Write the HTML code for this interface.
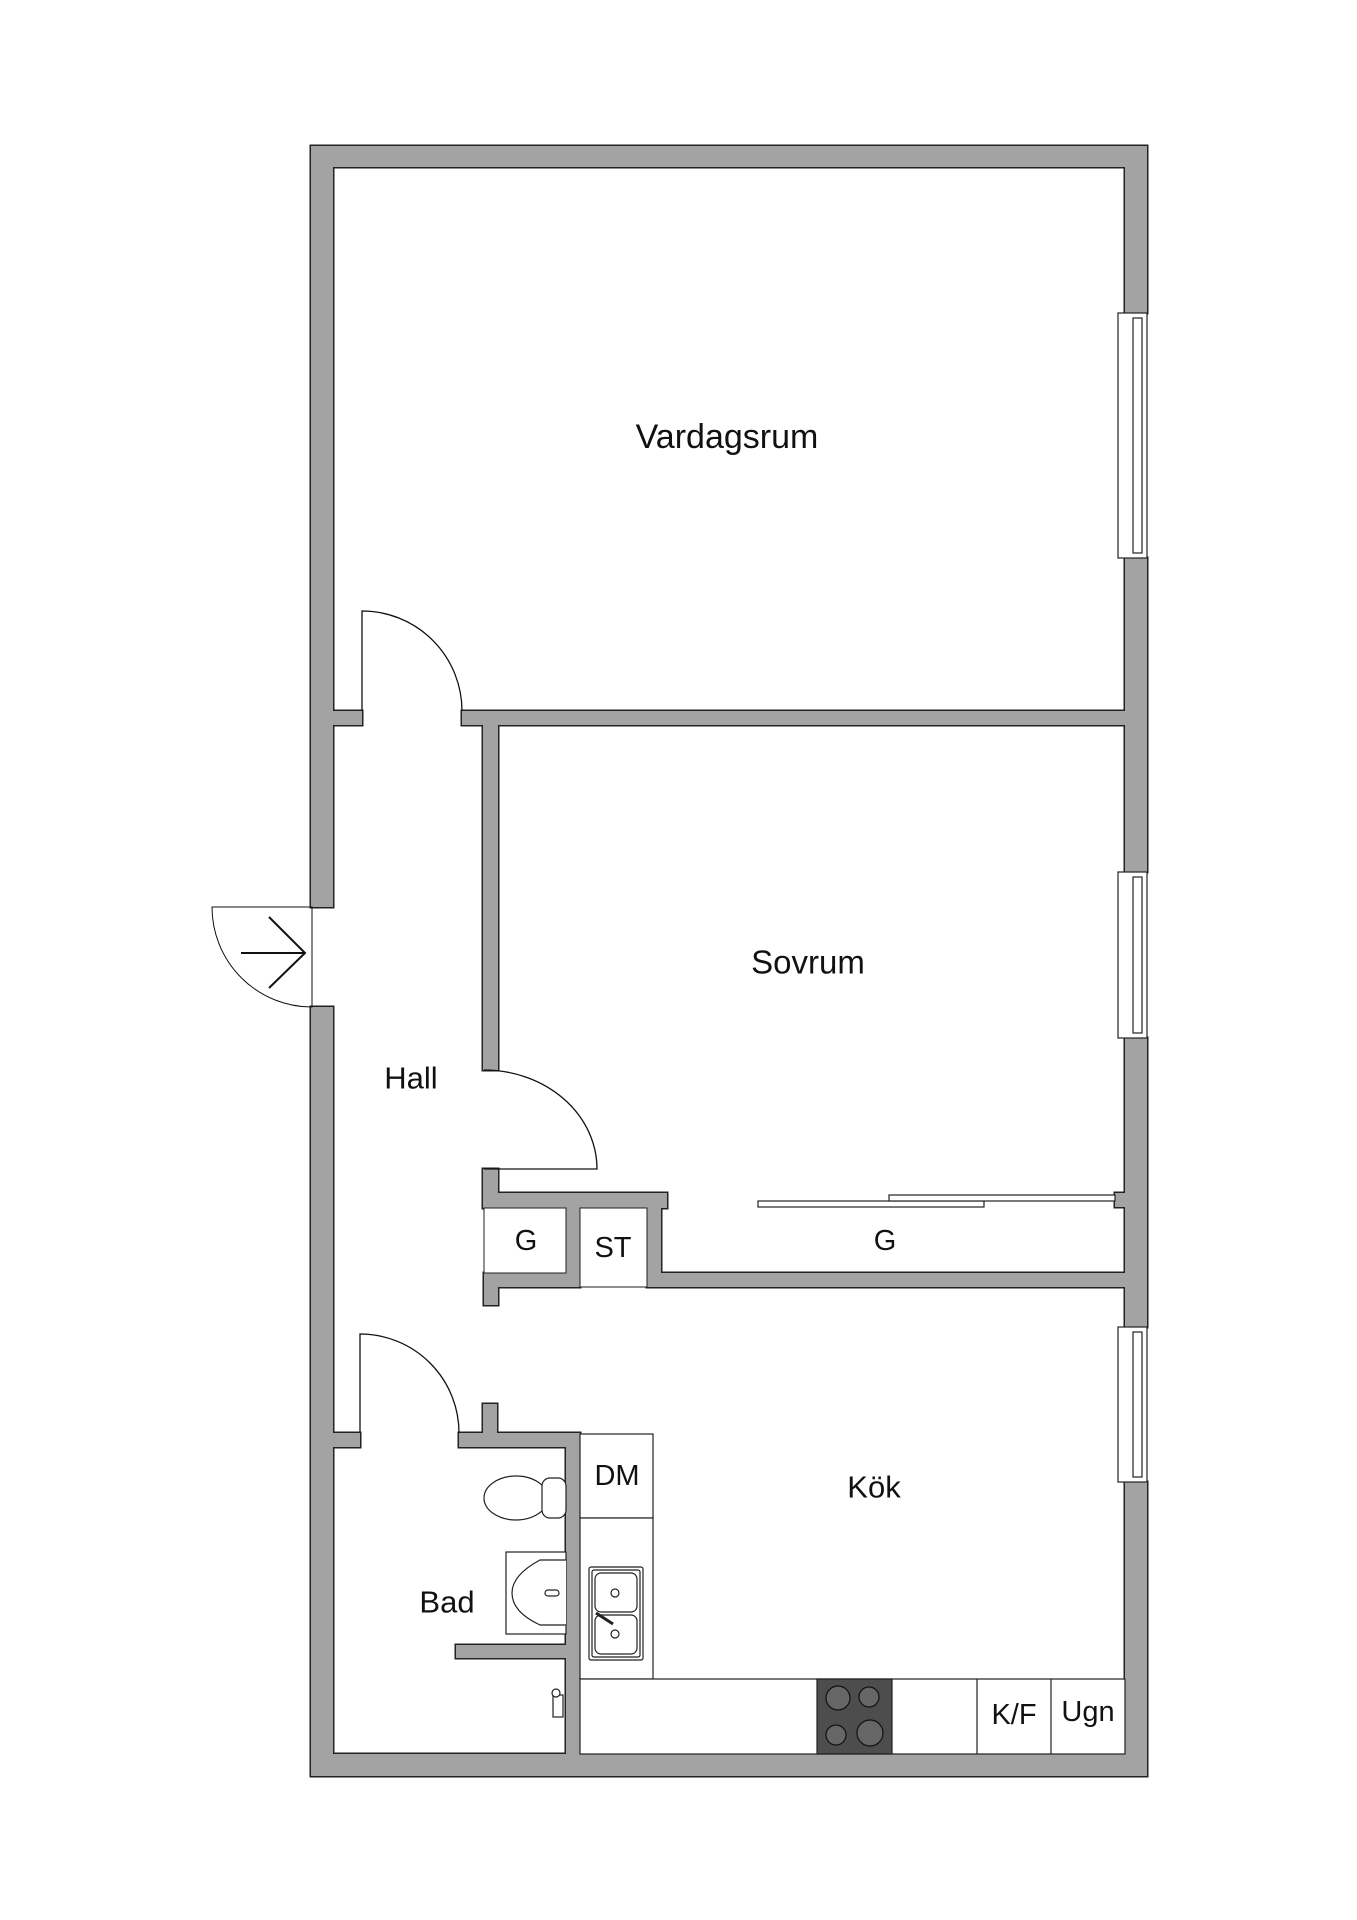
<!DOCTYPE html>
<html><head><meta charset="utf-8"><style>html,body{margin:0;padding:0;background:#fff}svg{display:block}</style></head>
<body>
<svg width="1357" height="1920" viewBox="0 0 1357 1920" xmlns="http://www.w3.org/2000/svg">
<defs>
<g id="walls">
<rect x="311" y="146" width="836" height="21"/>
<rect x="311" y="146" width="22" height="761"/>
<rect x="311" y="1007" width="22" height="769"/>
<rect x="1125" y="146" width="22" height="167"/>
<rect x="1125" y="558" width="22" height="314"/>
<rect x="1125" y="1038" width="22" height="289"/>
<rect x="1125" y="1482" width="22" height="294"/>
<rect x="311" y="1754" width="836" height="22"/>
<rect x="333" y="711" width="29" height="14"/>
<rect x="462" y="711" width="663" height="14"/>
<rect x="483" y="711" width="15" height="359"/>
<rect x="483" y="1169" width="15" height="39"/>
<rect x="483" y="1193" width="184" height="15"/>
<rect x="566" y="1208" width="14" height="79"/>
<rect x="647" y="1193" width="14" height="94"/>
<rect x="484" y="1273" width="96" height="14"/>
<rect x="484" y="1287" width="14" height="18"/>
<rect x="647" y="1273" width="500" height="14"/>
<rect x="1115" y="1193" width="10" height="14"/>
<rect x="333" y="1433" width="27" height="14"/>
<rect x="459" y="1433" width="121" height="14"/>
<rect x="483" y="1404" width="14" height="30"/>
<rect x="566" y="1433" width="14" height="321"/>
<rect x="456" y="1645" width="110" height="13"/>
</g>
</defs>
<use href="#walls" fill="#222" stroke="#222" stroke-width="3"/>
<use href="#walls" fill="#a3a3a3"/>
<rect x="580" y="1208" width="67" height="79" fill="#fff" stroke="#222" stroke-width="1"/>
<rect x="484" y="1208" width="82" height="65" fill="#fff" stroke="#222" stroke-width="1"/>
<g fill="#fff" stroke="#222" stroke-width="1.2">
<rect x="1118" y="313" width="29" height="245"/>
<rect x="1133" y="318" width="9" height="235"/>
<rect x="1118" y="872" width="29" height="166"/>
<rect x="1133" y="877" width="9" height="156"/>
<rect x="1118" y="1327" width="29" height="155"/>
<rect x="1133" y="1332" width="9" height="145"/>
<rect x="758" y="1201" width="226" height="6"/>
<rect x="889" y="1195" width="226" height="6"/>
<rect x="580" y="1434" width="73" height="84"/>
<rect x="580" y="1518" width="73" height="161"/>
<rect x="580" y="1679" width="545" height="75"/>
<line x1="977" y1="1679" x2="977" y2="1754"/>
<line x1="1051" y1="1679" x2="1051" y2="1754"/>
<rect x="817" y="1679" width="75" height="75" fill="#4d4d4d"/>
<rect x="589" y="1567" width="54" height="93" rx="2"/>
<rect x="592" y="1570" width="48" height="87" rx="2"/>
<rect x="595" y="1573" width="42" height="39" rx="6"/>
<rect x="595" y="1615" width="42" height="39" rx="6"/>
<circle cx="615" cy="1593" r="4"/><circle cx="615" cy="1634" r="4"/>
<line x1="596" y1="1613" x2="613" y2="1624" stroke-width="3"/>
<ellipse cx="516" cy="1498" rx="32" ry="22"/>
<rect x="542" y="1478" width="24" height="40" rx="8"/>
<rect x="506" y="1552" width="60" height="82"/>
<path d="M566 1560 L540 1560 Q512 1575 512 1593 Q512 1612 540 1625 L566 1625"/>
<rect x="545" y="1590" width="14" height="6" rx="3"/>
<rect x="553" y="1695" width="10" height="22"/>
<circle cx="556" cy="1693" r="4"/>
</g>
<g fill="#666" stroke="#111" stroke-width="1.2">
<circle cx="838" cy="1698" r="12"/><circle cx="869" cy="1697" r="10"/>
<circle cx="836" cy="1735" r="10"/><circle cx="870" cy="1733" r="13"/>
</g>
<g fill="none" stroke="#111" stroke-width="1.3">
<path d="M362 711 L362 611 A100 100 0 0 1 462 711"/>
<path d="M484 1070 A113 99 0 0 1 597 1169 L484 1169"/>
<path d="M360 1433 L360 1334 A99 99 0 0 1 459 1433"/>
<path d="M312 907 L212 907 A100 100 0 0 0 312 1007 Z" stroke-width="1"/>
<path d="M241 953 L305 953 M269 917 L305 953 L269 988" stroke-width="2"/>
</g>
<g font-family="Liberation Sans, sans-serif" fill="#111" text-anchor="middle" dominant-baseline="central">
<text x="727" y="437" font-size="34">Vardagsrum</text>
<text x="808" y="962" font-size="33">Sovrum</text>
<text x="411" y="1078" font-size="31">Hall</text>
<text x="874" y="1487" font-size="31">Kök</text>
<text x="447" y="1602" font-size="31">Bad</text>
<text x="526" y="1241" font-size="29">G</text>
<text x="613" y="1248" font-size="29">ST</text>
<text x="885" y="1241" font-size="29">G</text>
<text x="617" y="1476" font-size="29">DM</text>
<text x="1014" y="1715" font-size="29">K/F</text>
<text x="1088" y="1712" font-size="29">Ugn</text>
</g>
</svg>
</body></html>
